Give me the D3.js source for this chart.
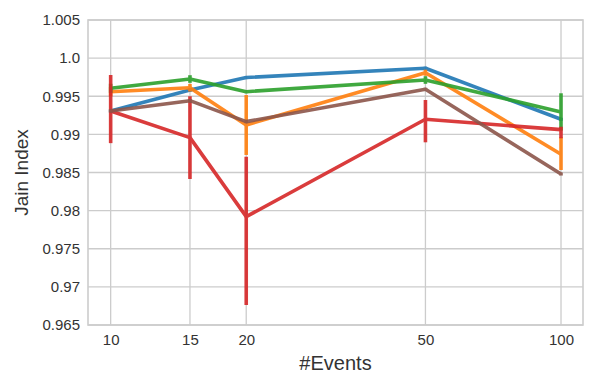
<!DOCTYPE html>
<html>
<head>
<meta charset="utf-8">
<script src="https://cdn.jsdelivr.net/npm/d3@7"></script>
<style>
  body { margin: 0; background: #fff; }
  text { font-family: 'Liberation Sans', Arial, sans-serif; fill: #333; }
</style>
</head>
<body>
<div id="container"></div>
<script>
const w = 598,
  h = 388;
const margin = { left: 88, top: 20, right: 15, bottom: 63 };
const iw = w - margin.left - margin.right,
  ih = h - margin.top - margin.bottom;

// x categories and tick labels
const events = [10, 15, 20, 50, 100];
const xTickLabels = ['10', '15', '20', '50', '100'];
const yTicks = [0.965, 0.97, 0.975, 0.98, 0.985, 0.99, 0.995, 1.0, 1.005];
const yTickLabels = ['0.965', '0.97', '0.975', '0.98', '0.985', '0.99', '0.995', '1.0', '1.005'];

// series: mean values and error bar bounds
const blueVals = [0.99307, 0.99582, 0.99745, 0.99867, 0.99198];
const blueLo = [0.99287, 0.99562, 0.99725, 0.99847, 0.99178];
const blueHi = [0.99327, 0.99602, 0.99765, 0.99887, 0.99218];

const orangeVals = [0.9956, 0.99612, 0.99123, 0.99809, 0.98739];
const orangeLo = [0.995, 0.99562, 0.9873, 0.99769, 0.98533];
const orangeHi = [0.9962, 0.99662, 0.99516, 0.99849, 0.98963];

const greenVals = [0.99604, 0.99726, 0.9956, 0.99713, 0.99294];
const greenLo = [0.99544, 0.99676, 0.9954, 0.99663, 0.99049];
const greenHi = [0.99664, 0.99776, 0.9958, 0.99763, 0.99539];

const redVals = [0.99307, 0.98957, 0.97921, 0.99198, 0.99062];
const redLo = [0.98885, 0.98415, 0.96762, 0.98896, 0.98949];
const redHi = [0.99779, 0.995, 0.98707, 0.99451, 0.991];

const brownVals = [0.99307, 0.99442, 0.99167, 0.99591, 0.9848];
const brownLo = [0.99287, 0.99422, 0.99147, 0.99571, 0.9846];
const brownHi = [0.99327, 0.99462, 0.99187, 0.99611, 0.985];

const series = [
  { color: '#1f77b4', vals: blueVals, lo: blueLo, hi: blueHi },
  { color: '#ff7f0e', vals: orangeVals, lo: orangeLo, hi: orangeHi },
  { color: '#2ca02c', vals: greenVals, lo: greenLo, hi: greenHi },
  { color: '#d62728', vals: redVals, lo: redLo, hi: redHi },
  { color: '#8c564b', vals: brownVals, lo: brownLo, hi: brownHi }
];

const svg = d3.select('#container').append('svg').attr('width', w).attr('height', h);
const g = svg.append('g').attr('transform', 'translate(' + margin.left + ', ' + margin.top + ')');

// log scale with a little margin on both sides
const xScale = d3.scaleLog().domain([8.906, 111.9]).range([0, iw]);
const yScale = d3.scaleLinear().domain([0.965, 1.005]).range([ih, 0]);

// grid
g.selectAll('.ygrid')
  .data(yTicks)
  .enter()
  .append('line')
  .attr('x1', 0)
  .attr('x2', iw)
  .attr('y1', (d) => yScale(d))
  .attr('y2', (d) => yScale(d))
  .attr('stroke', '#cccccc')
  .attr('stroke-width', 1.3);
g.selectAll('.xgrid')
  .data(events)
  .enter()
  .append('line')
  .attr('x1', (d) => xScale(d))
  .attr('x2', (d) => xScale(d))
  .attr('y1', 0)
  .attr('y2', ih)
  .attr('stroke', '#cccccc')
  .attr('stroke-width', 1.3);

// frame
g.append('rect')
  .attr('width', iw)
  .attr('height', ih)
  .attr('fill', 'none')
  .attr('stroke', '#cccccc')
  .attr('stroke-width', 1.6);

// axes, only labels
const xAxis = d3.axisBottom(xScale).tickValues(events).tickSize(0).tickPadding(9)
  .tickFormat((d, i) => xTickLabels[i]);
const yAxis = d3.axisLeft(yScale).tickValues(yTicks).tickSize(0).tickPadding(8)
  .tickFormat((d, i) => yTickLabels[i]);

g.append('g').attr('transform', 'translate(0, ' + ih + ')').call(xAxis)
  .call((a) => a.select('.domain').remove())
  .selectAll('text').attr('font-size', 15).attr('fill', '#333');
g.append('g').call(yAxis)
  .call((a) => a.select('.domain').remove())
  .selectAll('text').attr('font-size', 15).attr('fill', '#333');

// lines and error bars
const line = d3.line()
  .x((d, i) => xScale(events[i]))
  .y((d) => yScale(d));

series.forEach((s) => {
  const sg = g.append('g').attr('opacity', 0.9);
  sg.append('path')
    .datum(s.vals)
    .attr('d', line)
    .attr('fill', 'none')
    .attr('stroke', s.color)
    .attr('stroke-width', 3.6)
    .attr('stroke-linejoin', 'round');
  sg.selectAll('.err')
    .data(events)
    .enter()
    .append('line')
    .attr('x1', (d) => xScale(d))
    .attr('x2', (d) => xScale(d))
    .attr('y1', (d, i) => yScale(s.lo[i]))
    .attr('y2', (d, i) => yScale(s.hi[i]))
    .attr('stroke', s.color)
    .attr('stroke-width', 3.6);
});

// axis titles
svg.append('text')
  .text('#Events')
  .attr('x', margin.left + iw / 2)
  .attr('y', 370)
  .attr('text-anchor', 'middle')
  .attr('font-size', 20);

svg.append('text')
  .text('Jain Index')
  .attr('transform', 'translate(28, ' + (margin.top + ih / 2) + ') rotate(-90)')
  .attr('text-anchor', 'middle')
  .attr('font-size', 19);
</script>
</body>
</html>
